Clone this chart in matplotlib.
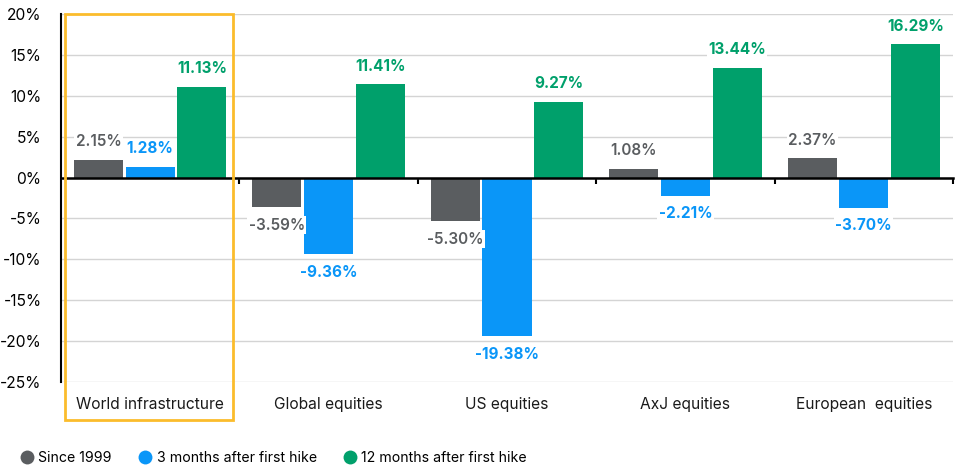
import matplotlib.pyplot as plt
import numpy as np
from matplotlib.patches import Rectangle

plt.rcParams['font.family'] = ['Inter', 'DejaVu Sans']

categories = ['World infrastructure', 'Global equities', 'US equities', 'AxJ equities', 'European  equities']
since_1999 = [2.15, -3.59, -5.30, 1.08, 2.37]
three_months = [1.28, -9.36, -19.38, -2.21, -3.70]
twelve_months = [11.13, 11.41, 9.27, 13.44, 16.29]
series_names = ['Since 1999', '3 months after first hike', '12 months after first hike']
colors = ['#5a5d60', '#0a96f8', '#00a06b']

fig = plt.figure(figsize=(9.62, 4.66), dpi=100)
ax = fig.add_axes([61 / 962, 1 - 382 / 466, (953 - 61) / 962, (382 - 14) / 466])

x = np.arange(len(categories))
width = 0.275
offset = 0.29
series = [since_1999, three_months, twelve_months]
for i, (vals, col) in enumerate(zip(series, colors)):
    pos = x + (i - 1) * offset
    ax.bar(pos, vals, width, color=col, zorder=3)
    for px, v in zip(pos, vals):
        weight = 'semibold' if i == 0 else 'bold'
        va = 'bottom' if v >= 0 else 'top'
        dy = 1.3 if v >= 0 else -1.3
        ax.text(px, v + dy, '%.2f%%' % v, ha='center', va=va, color=col,
                fontsize=11, fontweight=weight, zorder=4,
                bbox=dict(facecolor='white', edgecolor='none', pad=1.0))

ax.set_xlim(-0.5, len(categories) - 0.5)
ax.set_ylim(-25, 20)
ax.set_yticks(np.arange(-25, 21, 5))
ax.set_yticklabels(['%d%%' % t for t in np.arange(-25, 21, 5)], fontsize=11.2)
ax.yaxis.grid(True, color='#d4d4d4', linewidth=1.0, zorder=0)
ax.tick_params(axis='y', length=0, pad=14)

ax.spines['top'].set_visible(False)
ax.spines['right'].set_visible(False)
ax.spines['left'].set_linewidth(1.5)
ax.spines['left'].set_bounds(-25, 20)
ax.spines['bottom'].set_position(('data', 0))
ax.spines['bottom'].set_linewidth(1.8)
ax.spines['bottom'].set_zorder(5)
ax.set_xticks(np.arange(0.5, len(categories), 1.0))
ax.set_xticklabels([])
ax.tick_params(axis='x', direction='out', length=4, width=1.5)

for xi, name in zip(x, categories):
    ax.text(xi, -27.8, name, ha='center', va='center', fontsize=11.2, color='#1a1a1a', clip_on=False)

# highlight box around the first group
ax.add_patch(Rectangle((-0.475, -29.6), 0.94, 30.6 + 19.0, transform=ax.transData,
                       fill=False, edgecolor='#fbbc2c', linewidth=2.0, clip_on=False, zorder=6))

# legend
handles = [plt.Line2D([], [], marker='o', linestyle='none', markersize=10,
                      markerfacecolor=c, markeredgecolor='none') for c in colors]
fig.legend(handles, series_names, loc='lower left', bbox_to_anchor=(8 / 962, -0.017),
           ncol=3, frameon=False, fontsize=10.2, handletextpad=0.05, columnspacing=1.6,
           handlelength=1.5, borderaxespad=0.2)

fig.savefig('out.png', dpi=100)
